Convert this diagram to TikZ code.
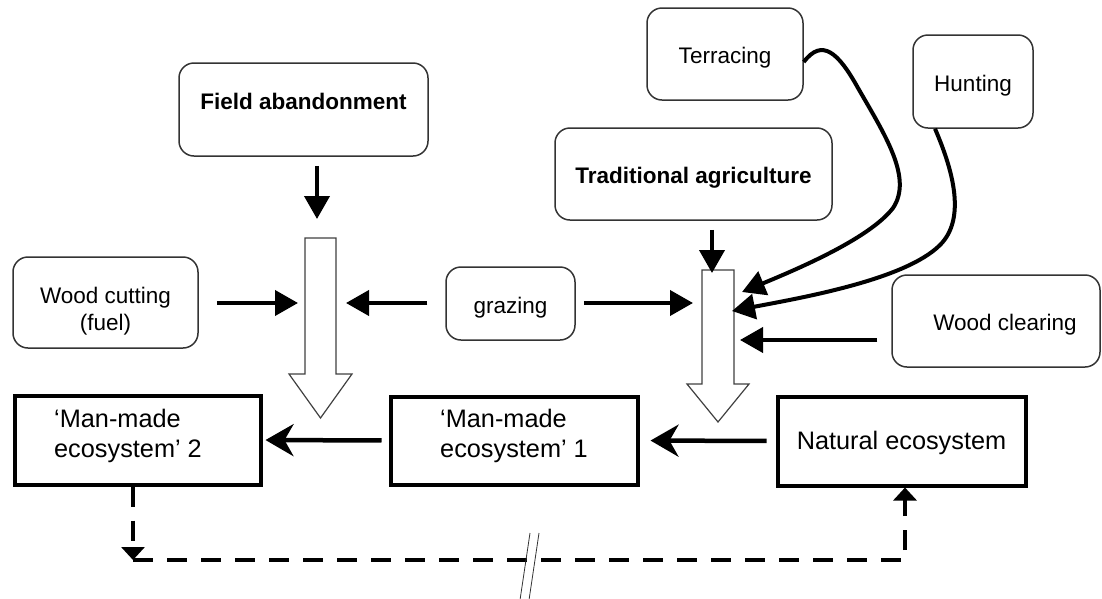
\documentclass[tikz,border=0pt]{standalone}
\usepackage{fontspec}
\setmainfont{Liberation Sans}
\usetikzlibrary{arrows.meta}
\tikzset{
  factor/.style={draw=black!80, line width=1.5pt, rounded corners=15pt, align=center, inner sep=0pt,
    font=\fontsize{22.5}{27}\selectfont, text height=19pt, text depth=0pt},
  eco/.style={draw, line width=4pt, align=left, inner sep=0pt, font=\fontsize{25.3}{30}\selectfont},
  arr/.style={line width=4pt, -{Triangle[length=23pt,width=25pt]}},
  ecoarr/.style={line width=4.5pt, -{Stealth[length=28pt,width=32pt,inset=9pt]}},
  dasharr/.style={line width=4pt, dash pattern=on 20pt off 14pt, -{Triangle[length=13pt,width=23pt]}},
  hollow/.style={draw=black!75, line width=1.2pt, fill=white}
}
\begin{document}
\begin{tikzpicture}[x=1pt,y=-1pt]
\useasboundingbox (0,0) rectangle (1102,598);
% factors
\node[factor, minimum width=249pt, minimum height=93pt, text depth=19pt] (fa) at (303.5,109.5) {\bfseries Field abandonment};
\node[factor, minimum width=156pt, minimum height=92pt] (terr) at (725,54) {Terracing};
\node[factor, minimum width=120pt, minimum height=93pt] (hunt) at (973,81.5) {Hunting};
\node[factor, minimum width=277pt, minimum height=92pt] (trad) at (693.5,174) {\bfseries Traditional agriculture};
\node[factor, minimum width=185pt, minimum height=91pt, text height=55pt, text depth=0pt] (wcut) at (105.5,302.5) {Wood cutting\\(fuel)};
\node[factor, minimum width=129pt, minimum height=73pt] (graz) at (510.5,303.5) {grazing};
\node[factor, minimum width=208pt, minimum height=92pt] (wc) at (996,321) {\hspace*{18pt}Wood clearing};
% ecosystems
\node[eco, minimum width=246pt, minimum height=89pt, text height=40pt, text depth=6pt] (mm2) at (137.5,440) {‘Man-made\\ecosystem’ 2\hspace*{19pt}};
\node[eco, minimum width=247pt, minimum height=88pt, text height=40pt, text depth=6pt] (mm1) at (514,440.5) {‘Man-made\\ecosystem’ 1};
\node[eco, minimum width=248pt, minimum height=89pt, text height=18pt, text depth=2pt] (nat) at (901.5,441) {Natural ecosystem};
% hollow arrows
\draw[hollow] (305,238) -- (336,238) -- (336,374) -- (352,374) -- (320.5,418) -- (289,374) -- (305,374) -- cycle;
\draw[hollow] (702,270) -- (734,270) -- (734,384) -- (749,384) -- (718,422) -- (687,384) -- (702,384) -- cycle;
\coordinate (lt1) at (317,219);
\coordinate (lt2) at (298,303);
\coordinate (lt3) at (346,303);
\coordinate (rt1) at (712,273);
\coordinate (rt2) at (742,292);
\coordinate (rt3) at (732,311);
\coordinate (rt4) at (740,340);
\coordinate (rt5) at (693,303);
\coordinate (dl) at (133,560);
\coordinate (dr) at (905,560);
\draw[arr, shorten <=9pt] (fa.south -| lt1) -- (lt1);
\draw[arr, shorten <=18pt] (wcut.east |- lt2) -- (lt2);
\draw[arr, shorten <=18pt] (graz.west |- lt3) -- (lt3);
\draw[arr, shorten <=8pt] (graz.east |- rt5) -- (rt5);
\draw[arr, shorten <=9pt] (trad.south -| rt1) -- (rt1);
\draw[arr, shorten <=14pt] (wc.west |- rt4) -- (rt4);
\draw[arr] ([yshift=-8pt]terr.east) .. controls (822,38) and (838,52) .. (858,88)
  .. controls (885,135) and (913,178) .. (893,208) .. controls (870,238) and (800,268) .. (rt2);
\draw[arr] ([xshift=-38pt]hunt.south) .. controls (955,175) and (965,220) .. (940,245)
  .. controls (905,280) and (800,298) .. (rt3);
\draw[ecoarr, shorten <=9pt, shorten >=11pt] (nat.west) -- (mm1.east);
\draw[ecoarr, shorten <=7pt, shorten >=3pt] (mm1.west) -- (mm2.east);
\draw[dasharr] (mm2.south -| dl) -- (dl);
\draw[dasharr] (dl) -- (dr) -- (nat.south -| dr);
\draw[line width=0.8pt, black!80] (530,533) -- (520,600) (539,533) -- (529,600);
\end{tikzpicture}
\end{document}
